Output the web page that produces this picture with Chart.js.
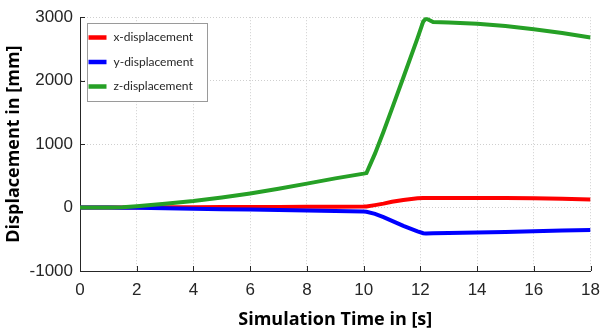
<!DOCTYPE html>
<html>
<head>
<meta charset="utf-8">
<script src="https://cdn.jsdelivr.net/npm/chart.js@4/dist/chart.umd.min.js"></script>
<style>
  html, body { margin: 0; padding: 0; background: #fff; }
  #wrap { width: 609px; height: 331px; }
</style>
</head>
<body>
<div id="wrap"><canvas id="c" width="609" height="331"></canvas></div>
<script>
// Simulation time samples [s]
const timeS = [0, 1, 1.5, 2, 3, 4, 5, 6, 7, 8, 9, 10, 10.1, 10.4, 10.7, 11, 11.4, 11.9, 12.1, 12.2, 12.45, 13, 14, 15, 16, 17, 18];

// Displacement components [mm]
const xDisp = [0, 0, 0, 1, 3, 6, 8, 9, 10, 11, 13, 15, 17, 38, 62, 90, 120, 148, 152, 152, 152, 152, 152, 150, 145, 137, 128];
const yDisp = [0, 0, -2, -5, -12, -20, -25, -31, -38, -46, -55, -64, -66, -100, -150, -210, -290, -375, -405, -408, -405, -400, -392, -385, -372, -363, -355];
const zDisp = [0, 2, 5, 22, 60, 104, 158, 222, 295, 377, 460, 535, 545, 850, 1195, 1560, 2050, 2670, 2930, 2980, 2925, 2915, 2895, 2860, 2810, 2750, 2680];

const seriesNames = ['x-displacement', 'y-displacement', 'z-displacement'];
const seriesColors = ['#ff0000', '#0000ff', '#26a026'];

const xTickValues = [0, 2, 4, 6, 8, 10, 12, 14, 16, 18];
const yTickValues = [-1000, 0, 1000, 2000, 3000];

const toPoints = vals => timeS.map((t, i) => ({ x: t, y: vals[i] }));
const seriesValues = [xDisp, yDisp, zDisp];

const datasets = seriesValues.map((vals, i) => ({
  label: seriesNames[i],
  data: toPoints(vals),
  borderColor: seriesColors[i],
  backgroundColor: seriesColors[i],
  borderWidth: 4,
  pointRadius: 0,
  tension: 0,
  fill: false,
  order: 3 - i
}));

const axisInk = '#262626';
const tickFont = { family: '"Liberation Sans", Arial, sans-serif', size: 17 };
const titleFont = { family: '"Open Sans", sans-serif', size: 18, weight: 'bold' };

// Short inward tick marks on the left and bottom axes
const innerTicks = {
  id: 'innerTicks',
  beforeDatasetsDraw(chart) {
    const { ctx, chartArea: a, scales } = chart;
    ctx.save();
    ctx.strokeStyle = axisInk;
    ctx.lineWidth = 1;
    ctx.beginPath();
    xTickValues.forEach(v => {
      const px = Math.round(scales.x.getPixelForValue(v)) + 0.5;
      ctx.moveTo(px, a.bottom);
      ctx.lineTo(px, a.bottom - 5);
    });
    yTickValues.forEach(v => {
      const py = Math.round(scales.y.getPixelForValue(v)) + 0.5;
      ctx.moveTo(a.left, py);
      ctx.lineTo(a.left + 5, py);
    });
    ctx.stroke();
    ctx.restore();
  }
};

// Boxed legend in the upper-left corner of the plot area
const boxLegend = {
  id: 'boxLegend',
  afterDatasetsDraw(chart) {
    const { ctx, chartArea: a } = chart;
    const bx = Math.round(a.left) + 7.5, by = Math.round(a.top) + 6.5;
    const bw = 120, bh = 78;
    ctx.save();
    ctx.fillStyle = '#ffffff';
    ctx.fillRect(bx, by, bw, bh);
    ctx.strokeStyle = '#9a9a9a';
    ctx.lineWidth = 1;
    ctx.strokeRect(bx, by, bw, bh);
    ctx.font = '12px Lato, "Open Sans", sans-serif';
    ctx.textBaseline = 'middle';
    ctx.textAlign = 'left';
    chart.data.datasets.forEach((ds, i) => {
      const ry = by + 14 + i * 24.5;
      ctx.strokeStyle = ds.borderColor;
      ctx.lineWidth = 4.5;
      ctx.beginPath();
      ctx.moveTo(bx + 1, ry);
      ctx.lineTo(bx + 19, ry);
      ctx.stroke();
      ctx.fillStyle = axisInk;
      ctx.fillText(ds.label, bx + 26, ry);
    });
    ctx.restore();
  }
};

new Chart(document.getElementById('c'), {
  type: 'line',
  data: { datasets },
  options: {
    responsive: false,
    animation: false,
    events: [],
    layout: { padding: { top: 12, right: 9, left: 0, bottom: 0 }, autoPadding: false },
    plugins: { legend: { display: false }, tooltip: { enabled: false } },
    scales: {
      x: {
        type: 'linear',
        min: 0, max: 18,
        afterBuildTicks: s => { s.ticks = xTickValues.map(v => ({ value: v })); },
        afterFit: s => { s.height = 60; },
        ticks: { color: axisInk, font: tickFont, padding: 9, maxRotation: 0, callback: v => String(v) },
        grid: { color: '#cfcfcf', lineWidth: 1, drawTicks: false },
        border: { display: true, color: axisInk, width: 1, dash: [1, 2] },
        title: {
          display: true,
          text: 'Simulation Time in [s]',
          color: '#000',
          font: titleFont,
          padding: { top: 0, bottom: 0 }
        }
      },
      y: {
        type: 'linear',
        min: -1000, max: 3000,
        afterBuildTicks: s => { s.ticks = yTickValues.map(v => ({ value: v })); },
        afterFit: s => { s.width = 80; },
        ticks: { color: axisInk, font: tickFont, padding: 7, callback: v => String(v) },
        grid: { color: '#cfcfcf', lineWidth: 1, drawTicks: false },
        border: { display: true, color: axisInk, width: 1, dash: [1, 2] },
        title: {
          display: true,
          text: 'Displacement in [mm]',
          color: '#000',
          font: titleFont,
          padding: { top: 3, bottom: 0 }
        }
      }
    }
  },
  plugins: [innerTicks, boxLegend]
});
</script>
</body>
</html>
